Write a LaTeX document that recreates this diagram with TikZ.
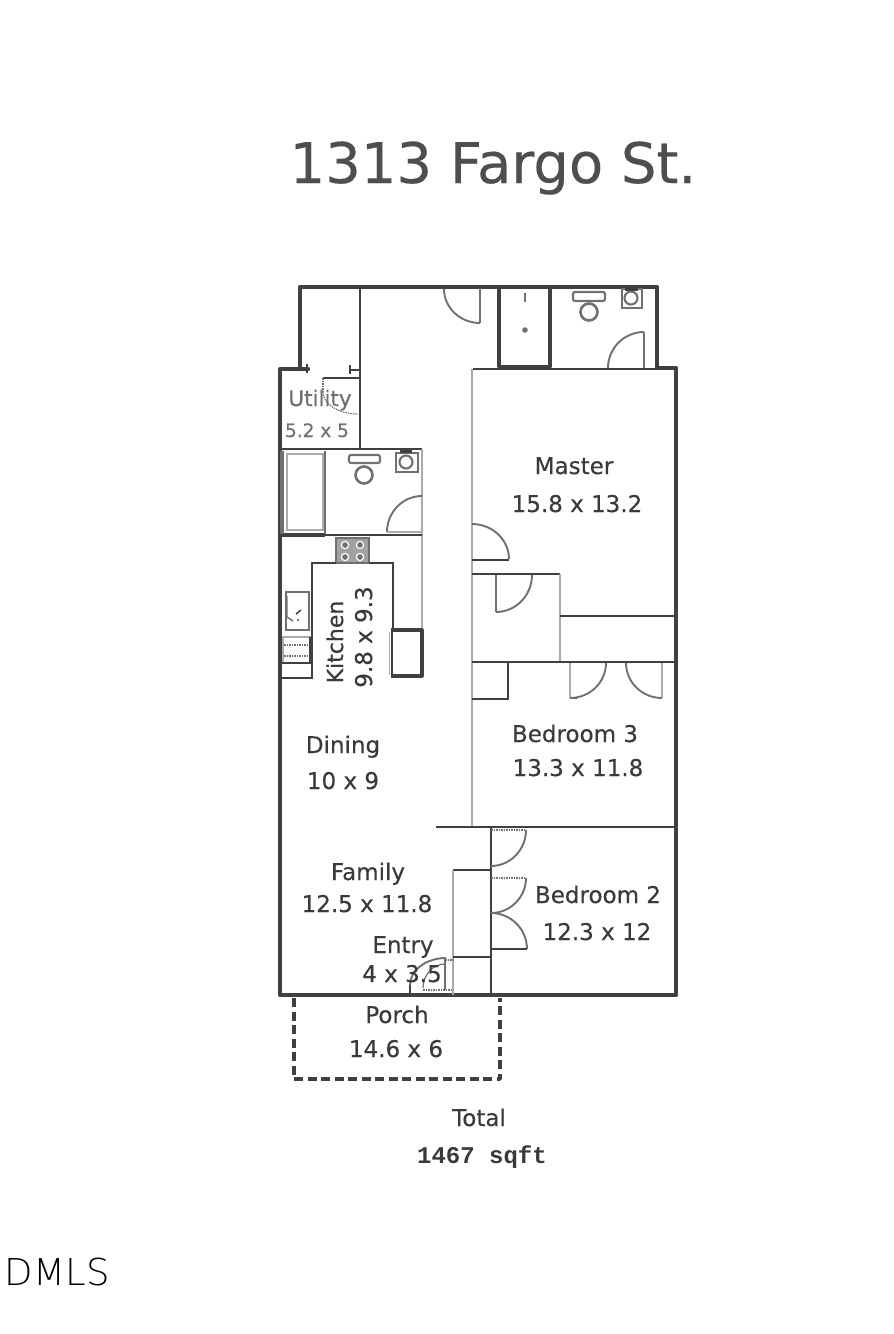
\documentclass[tikz,border=0pt]{standalone}
\usepackage{fontspec}
\setmainfont{DejaVu Sans}
\newfontfamily\labfnt[FakeBold=0.3]{DejaVu Sans}
\newfontfamily\monofnt{Liberation Mono}
\newfontfamily\thinfnt[LetterSpace=1]{DejaVu Sans ExtraLight}
\definecolor{ink}{HTML}{3A3A3A}
\definecolor{wallc}{HTML}{404040}
\definecolor{soft}{HTML}{ABABAB}
\definecolor{midg}{HTML}{707070}
% quarter arcs: \qh starts horizontally, \qv starts vertically
\newcommand{\qh}[5][]{\draw[#1] (#2,#3) .. controls ({#2+0.55*(#4-#2)},#3) and (#4,{#5-0.55*(#5-#3)}) .. (#4,#5);}
\newcommand{\qv}[5][]{\draw[#1] (#2,#3) .. controls (#2,{#3+0.55*(#5-#3)}) and ({#4-0.55*(#4-#2)},#5) .. (#4,#5);}
\tikzset{
  wall/.style={draw=wallc,line width=4.4pt,line cap=round,line join=round},
  mwall/.style={draw=wallc,line width=2.6pt},
  twall/.style={draw=wallc,line width=1.7pt},
  gwall/.style={draw=soft,line width=2pt},
  door/.style={draw=midg,line width=1.9pt},
  ddoor/.style={draw=wallc,line width=1.7pt},
  dots/.style={draw=midg,line width=1.2pt,dash pattern=on 1.5pt off 1pt},
  fix/.style={draw=midg,line width=2.1pt},
  lab/.style={text=ink,font=\labfnt\fontsize{23}{23}\selectfont,anchor=base,inner sep=0pt},
  slab/.style={text=midg,font=\labfnt\fontsize{18.5}{18.5}\selectfont,anchor=base,inner sep=0pt},
  porch/.style={draw=wallc,line width=3.6pt,dash pattern=on 9pt off 4.5pt,line join=round}
}
\begin{document}
\begin{tikzpicture}[x=1pt,y=-1pt]
\useasboundingbox (0,0) rectangle (894,1334);
\fill[white] (0,0) rectangle (894,1334);
% outer walls
\draw[wall] (308,369) -- (280,369) -- (280,995) -- (676,995) -- (676,368) -- (657,368) -- (657,287) -- (300,287) -- (300,369);
\draw[porch] (294,998) -- (294,1079) -- (500,1079) -- (500,998);
% closet / utility
\draw[mwall] (360,287) -- (360,449);
\draw[twall] (307,364) -- (307,373);
\draw[twall] (350,370) -- (360,370) (350,365) -- (350,374);
\draw[twall] (323,378) -- (360,378);
\draw[dots] (323,378) -- (323,392);
\qv[dots]{323}{392}{358}{414}
% hall door
\draw[fix] (480,288) -- (480,323);
\qh[door]{480}{323}{444}{289}
% lower bath
\draw[mwall] (279,449) -- (422,449);
\draw[gwall] (422,449) -- (422,630);
\draw[wall,line width=3.4pt,line cap=butt] (280,535) -- (325,535);
\draw[twall] (325,535) -- (422,535);
\draw[draw=midg,line width=3.6pt] (282,451) -- (282,534);
\draw[draw=midg,line width=2.8pt] (325,451) -- (325,534);
\draw[draw=soft,line width=1.6pt] (287,454) rectangle (323,530);
\draw[fix,rounded corners=2pt] (349,455) rectangle (380,463);
\draw[fix,line width=2.6pt] (364,475) circle (8.5);
\draw[fix] (396,453) rectangle (418,472);
\draw[fix] (406,462) circle (6.5);
\fill[wallc] (400,449) rectangle (412,453);
\qh[door]{422}{496}{387}{532}
\draw[gwall] (387,532) -- (422,532);
% master bath
\draw[wall,line width=3.8pt,line cap=butt] (499,288) -- (499,367) -- (550,367) -- (550,288);
\draw[fix] (525,293) -- (525,302);
\fill[midg] (525,330) circle (2.8);
\draw[mwall] (473,369) -- (677,369);
\draw[fix,rounded corners=2pt] (573,292) rectangle (605,301);
\draw[fix,line width=2.6pt] (589,312) circle (8.5);
\draw[fix] (622,289) rectangle (642,308);
\draw[fix] (631,298) circle (6.5);
\fill[wallc] (625,287) rectangle (638,291);
\draw[door] (644,332) -- (644,368);
\qh[door]{644}{332}{608}{368}
% central wall + master closets
\draw[gwall] (472,369) -- (472,827);
\qh[door]{472}{524}{509}{559}
\draw[mwall] (472,560) -- (509,560);
\draw[mwall] (472,574) -- (560,574);
\draw[gwall] (560,574) -- (560,662);
\draw[mwall] (560,616) -- (674,616);
\draw[mwall] (472,662) -- (675,662);
\draw[door] (496,575) -- (496,612);
\qh[door]{496}{612}{532}{575}
\draw[mwall] (508,662) -- (508,699) -- (472,699);
\draw[gwall] (570,663) -- (570,698);
\draw[ddoor] (570,698) -- (577,698);
\qh[door]{570}{698}{606}{663}
\draw[gwall] (662,663) -- (662,698);
\qh[door]{662}{698}{626}{663}
% kitchen
\draw[mwall] (436,827) -- (675,827);
\draw[fill=midg!65,draw=midg,line width=1.2pt] (336,538) rectangle (369,563);
\foreach \cx/\cy in {345/545,360/545,345/557,360/557}{
  \draw[draw=white,line width=1.2pt,fill=midg] (\cx,\cy) circle (3.6);
}
\draw[mwall] (280,678) -- (312,678) -- (312,563) -- (336,563);
\draw[mwall] (369,563) -- (393,563) -- (393,630);
\draw[door] (286,592) rectangle (309,630);
\draw[draw=midg,line width=1.4pt] (287,596) -- (287,617) -- (293,621);
\draw[draw=ink,line width=1.4pt] (296,614) -- (301,610) (297,620) -- (299,620);
\draw[draw=soft,line width=1.2pt] (283,637) rectangle (310,663);
\draw[dots] (284,645) -- (309,645) (284,656) -- (309,656);
\draw[draw=wallc,line width=3pt] (310,637) -- (310,662);
\draw[mwall] (280,663) -- (312,663);
\draw[wall,line width=3.2pt,line cap=butt] (391,630) -- (422,630) -- (422,676) -- (391,676);
\draw[twall] (392,630) -- (392,676);
\draw[draw=soft,line width=1.6pt] (389.5,632) -- (389.5,675);
% bedroom 2 wing
\draw[twall,line width=2pt] (491,827) -- (491,995);
\qv[door]{526}{830}{491}{866}
\draw[dots] (491,830) -- (525,830);
\draw[dots] (491,878) -- (526,878);
\qv[door]{526}{878}{491}{913}
\qh[door]{491}{913}{527}{949}
\draw[mwall] (491,949) -- (527,949);
\draw[mwall] (453,870) -- (491,870);
\draw[gwall] (453,870) -- (453,995);
\draw[mwall] (453,957) -- (491,957);
% entry door
\draw[twall,line width=2pt] (410,985) -- (410,994);
\qv[door]{410}{985}{446}{958}
\draw[door,line width=1.4pt] (445,958) -- (445,990);
\draw[dots] (423,990) -- (453,990);
\draw[dots] (445,960) -- (453,960);
\qh[door,line width=1.2pt]{445}{964}{423}{988}
% labels
\node[text=ink!90!white,font=\labfnt\fontsize{56}{56}\selectfont,anchor=base,inner sep=0pt] (title) at (493,183) {1313 Fargo St.};
\node[slab,font=\labfnt\fontsize{21.5}{21.5}\selectfont] (u1) at (320,406) {Utility};
\node[slab] (u2) at (317,437) {5.2 x 5};
\node[lab] (m1) at (574,474) {Master};
\node[lab] (m2) at (577,512) {15.8 x 13.2};
\node[lab,font=\labfnt\fontsize{22}{22}\selectfont,rotate=90] (k1) at (343,642) {Kitchen};
\node[lab,rotate=90] (k2) at (372,637) {9.8 x 9.3};
\node[lab] (d1) at (343,753) {Dining};
\node[lab] (d2) at (343,789) {10 x 9};
\node[lab] (b1) at (575,742) {Bedroom 3};
\node[lab] (b2) at (578,776) {13.3 x 11.8};
\node[lab] (f1) at (368,880) {Family};
\node[lab] (f2) at (367,912) {12.5 x 11.8};
\node[lab] (e1) at (403,953) {Entry};
\node[lab] (e2) at (402,982) {4 x 3.5};
\node[lab] (c1) at (598,903) {Bedroom 2};
\node[lab] (c2) at (597,940) {12.3 x 12};
\node[lab] (p1) at (397,1023) {Porch};
\node[lab] (p2) at (396,1057) {14.6 x 6};
\node[lab] (t1) at (479,1126) {Total};
\node[text=ink,font=\monofnt\bfseries\fontsize{24}{24}\selectfont,anchor=base,inner sep=0pt] (t2) at (482,1163) {1467 sqft};
\node[text=black,font=\thinfnt\fontsize{37}{37}\selectfont,anchor=base west,inner sep=0pt] (logo) at (4,1285) {DMLS};
\end{tikzpicture}
\end{document}
